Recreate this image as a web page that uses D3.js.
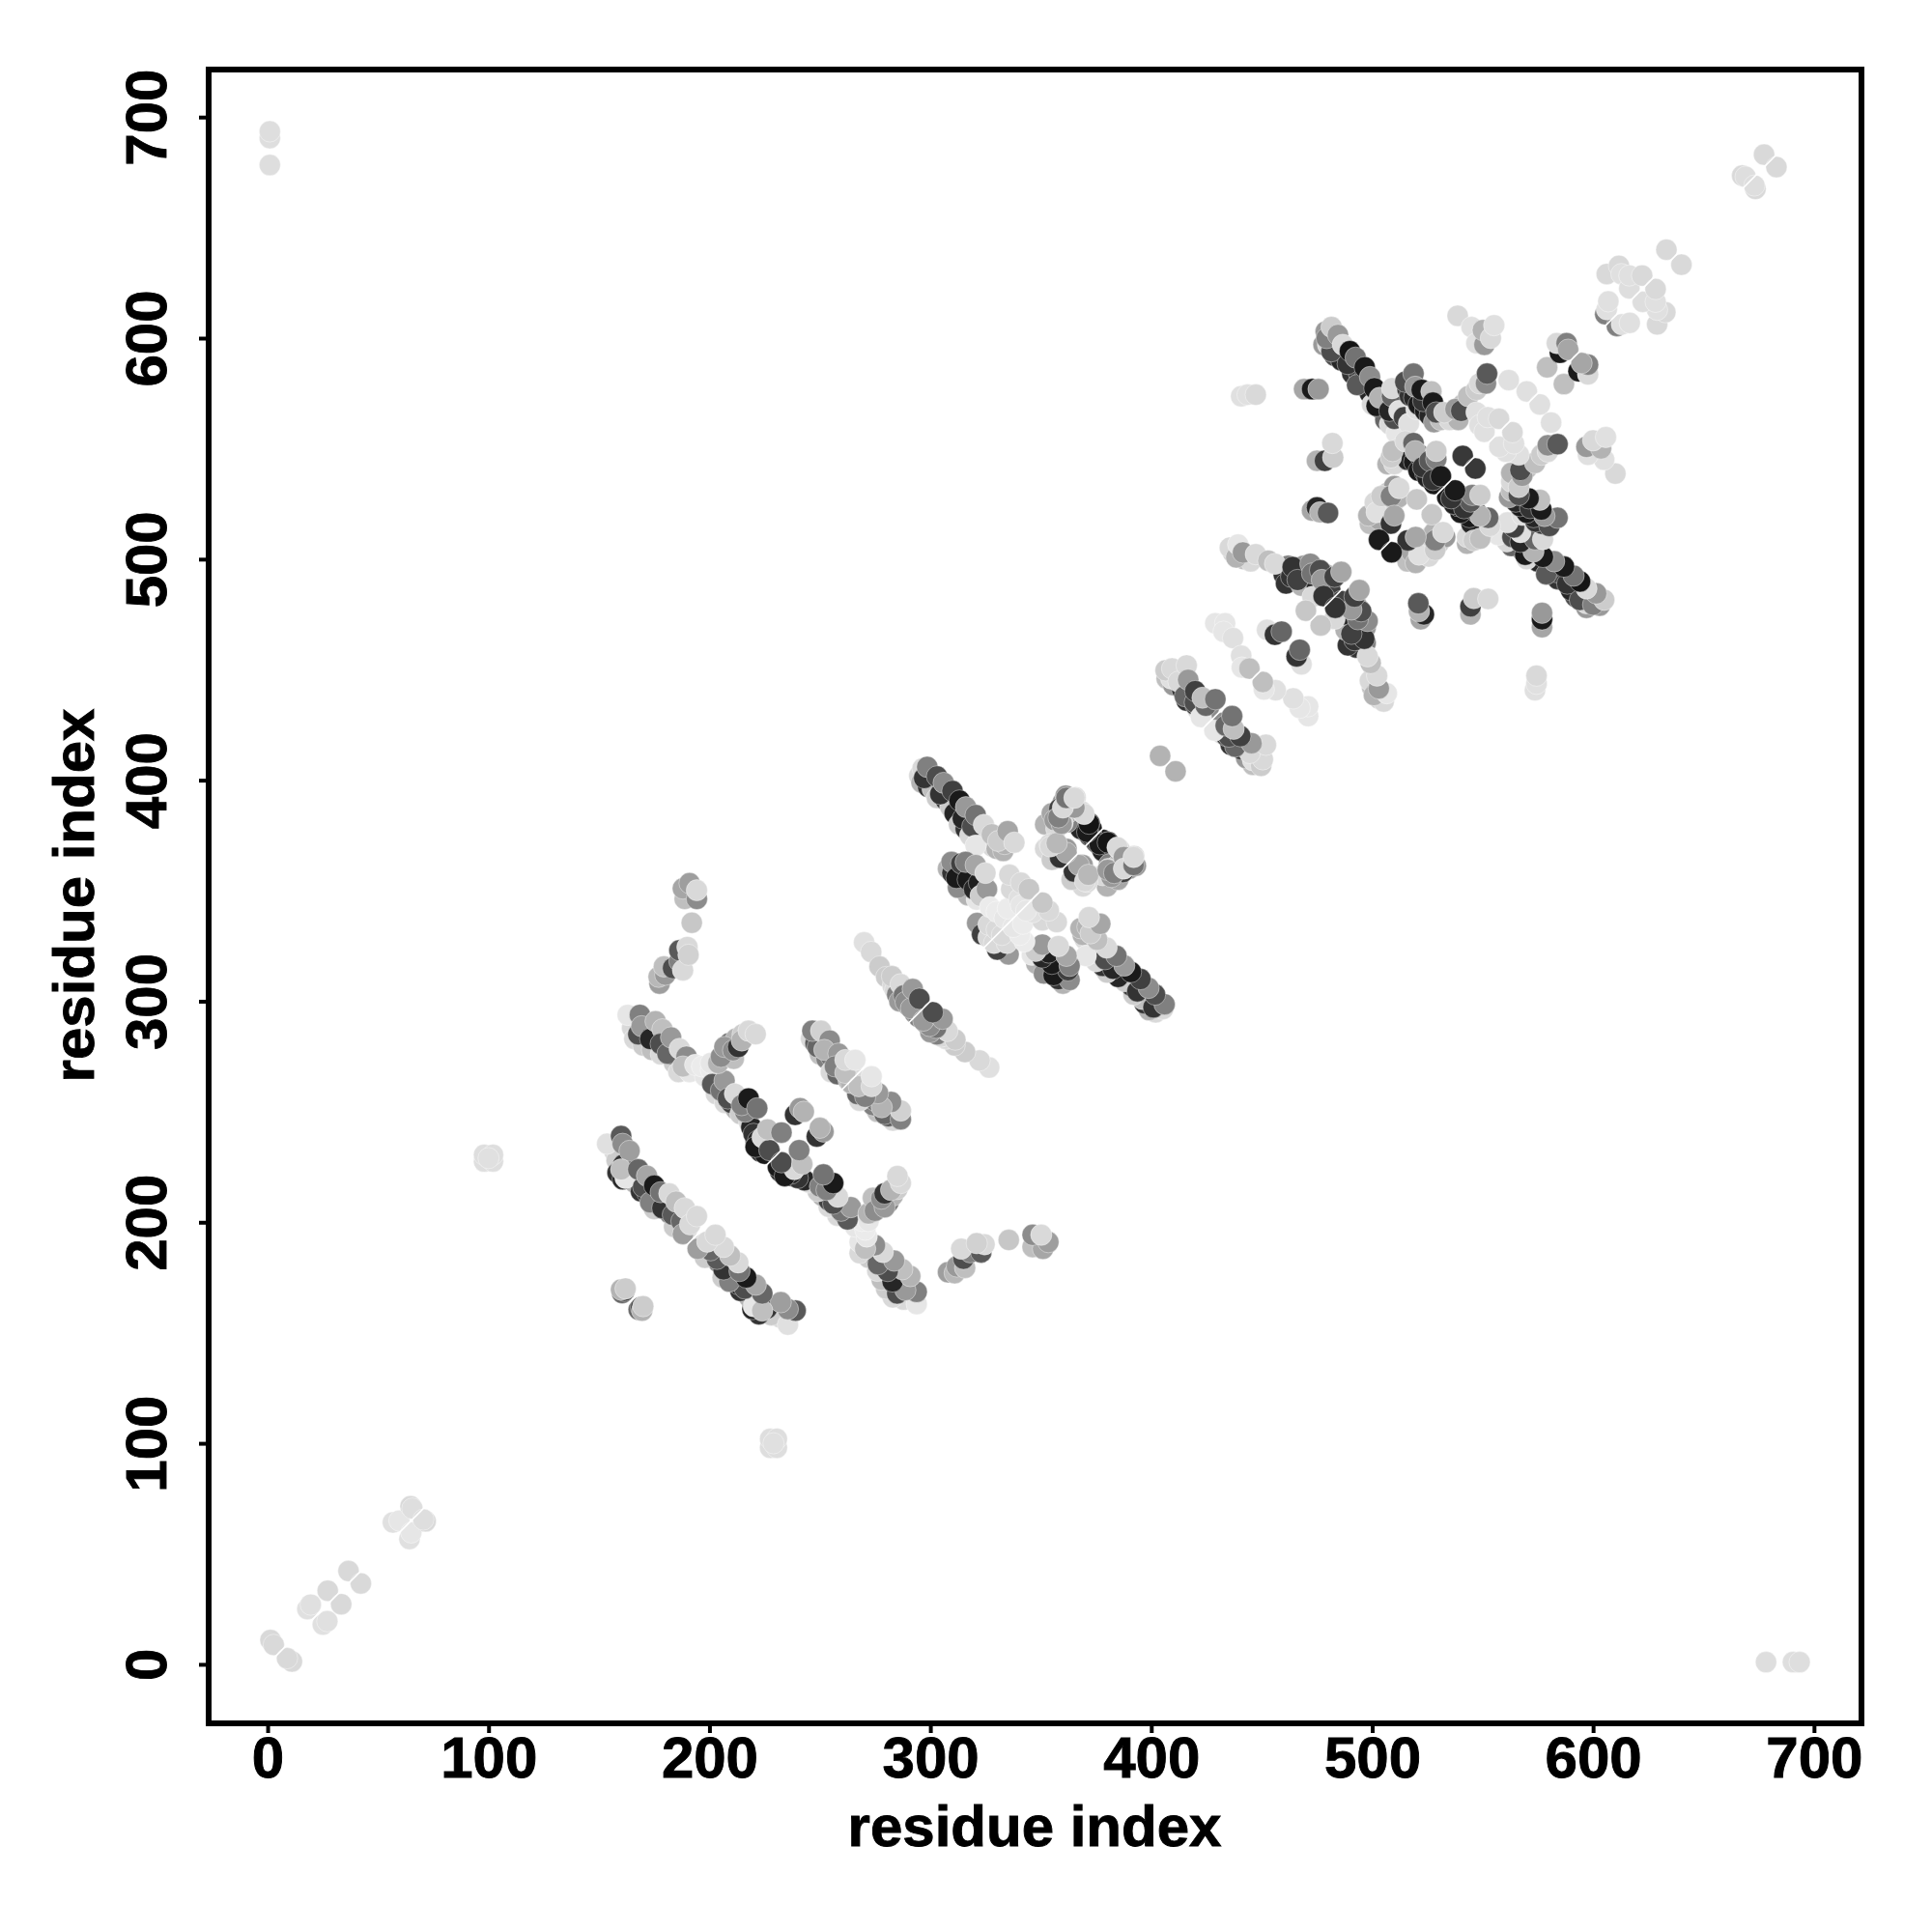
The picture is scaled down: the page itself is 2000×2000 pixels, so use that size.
<!DOCTYPE html>
<html><head><meta charset="utf-8">
<script src="https://cdn.jsdelivr.net/npm/d3@7"></script>
<style>html,body{margin:0;background:#fff}svg{display:block}text{font-family:"Liberation Sans",Arial,sans-serif;font-weight:700;fill:#000;stroke:#000;stroke-width:.9px}</style>
</head><body><svg id="c" width="2000" height="2000"></svg>
<script>
// contacts: [residue i, residue j, grey level], i<j; each is shown at (i,j) and (j,i)
const tickValues=[0,100,200,300,400,500,600,700];
const axisLabel="residue index";
const farContacts=[[1,678.3,.87],[1,690.5,.87],[1,693.5,.87],[98,227.5,.87],[98,230.5,.87],[102,227.5,.87],[102,230.5,.87],[100,229,.88]];
const nearStart=[[1.3,11,.85],[2.75,8.8,.85],[18,25,.88],[19.5,27,.88],[27.2,33.3,.85],[36.6,42.2,.85],[56.7,64.2,.88],[59.6,65,.9],[64.7,71.5,.85],[65.5,70.5,.87]];
const helixA=[[160.5,168,.4],[161.5,169,.25],[160,169.5,.7],[162,170,.8]];
const underS1=[[157,232,.85],[158,228,.8],[161,226,.2],[164,225,.25],[164,220,.8],[166,218,.7],[169,214,.2],[172,213,.15],[172,218,.7],[176,211,.3],[175,206,.8],[179,210,.15],[180,208,.2],[182,204,.5],[185,201,.8],[186,205,.3],[190,197,.85],[184,198,.8]];
const strandS1=[[153.7,235.5,.88],[158.4,222.4,.2],[160.7,219.5,.15],[160,239,.35],[160.7,235.5,.55],[163.8,232.3,.62],[162,220,.9],[160,223.9,.75],[170,216,.3],[167.8,223.9,.4],[171.7,221,.65],[173.2,209,.5],[175,216.6,.1],[178.7,206.4,.2],[177.9,213.6,.45],[181.8,213,.85],[183.4,203.4,.35],[184.9,209.3,.75],[187.3,200.5,.4],[188.8,206.4,.85],[188,194.7,.62],[191.2,199,.85],[194.3,202.7,.85]];
const strandC2=[[177.4,308,.62],[177,311,.72],[180,312,.6],[179.4,315.7,.75],[183.5,315,.3],[186.4,318,.5],[186.4,323,.35],[188,314,.85],[190,324.5,.85],[190.5,321,.82]];
const strandC1=[[188.8,346.3,.75],[188,351,.65],[191,353.4,.62],[194.3,346.3,.55],[192,335.5,.78],[194.3,350.2,.85]];
const underL2=[[165,288,.85],[166,283,.85],[170,280,.8],[172,285,.2],[175,283,.25],[174,278,.75],[178,276,.85],[180,279,.2],[184,272,.8],[183,276,.35],[186,268,.85],[191,268,.9],[198,266,.9],[203,258,.85],[204,261,.25],[207,254,.85],[212,251,.7],[210,254,.25],[214,249,.8],[218,245,.85],[219,243,.15],[221,237,.1],[223,232,.15],[225,231,.1]];
const strandL2=[[167.8,285,.3],[163,293.8,.9],[168.5,293.8,.5],[169.3,288.7,.6],[173.2,282.9,.15],[175.6,290.9,.7],[178.7,287.3,.75],[177.9,280.7,.3],[181,276.3,.4],[182.6,283.6,.6],[186.5,278.5,.85],[189.6,274.9,.55],[188,270.5,.75],[193.5,271.2,.9],[196.6,270.5,.92],[200.6,269,.92],[200.6,272,.9],[201.3,262.5,.35],[205.2,259.6,.45],[206.8,264,.6],[208.4,256,.3],[211.5,258.1,.85],[216.2,250,.5],[214.6,253,.5],[217.7,256,.1],[221.6,251.6,.45],[220,240,.2],[222,237,.15],[220.9,234.1,.1],[224,238.4,.85],[227.1,232.6,.3],[226.3,242,.75],[232.6,240.6,.5]];
const branchC3=[[204,272,.7],[207,276,.35],[209,281,.45],[211,274,.75],[212,283,.7],[215,285,.8],[205.2,274.9,.55],[206.8,279.3,.6],[210.7,277.8,.55],[213,279.3,.2],[214.6,282.2,.7],[217.7,286.6,.85],[220.9,285.1,.85]];
const patchC4=[[238.8,248.6,.2],[241,251.6,.6],[242.7,250,.7]];
const strandP=[[246,283,.85],[248,281,.35],[250,276,.75],[253,274,.5],[255,275,.45],[255,268,.85],[258,267,.4],[264,270,.85],[259,271,.85],[263,264,.7],[249,279.3,.4],[246.6,286.6,.5],[250.5,286.6,.82],[254.4,282.2,.55],[252,278,.7],[258.4,276.3,.6],[256.8,270.5,.5],[261.5,267.6,.75],[261.5,273.4,.85],[266,273.4,.9]];
const strandQ=[[270,326.6,.88],[273.2,322.3,.85],[277,315.7,.8],[280,311,.8],[283,307,.85],[284,305,.85],[285,303,.5],[286,300,.6],[289,304,.8],[290,298,.55],[293,294.5,.5],[282.6,311.3,.8],[286.5,307.7,.85],[288,302.6,.45],[288.8,299.7,.55],[291.2,296.8,.6],[292,305.5,.6],[295,301.1,.3]];
const strandR=[[295,402,.85],[296,399,.7],[299,397,.2],[301,396,.75],[303,392,.8],[307,391,.2],[309,388,.8],[311,385,.15],[313,380,.8],[316,378,.2],[318,375,.85],[322,374,.85],[324,372,.8],[328,370,.85],[330,369,.7],[333,368,.7],[296.5,405.3,.85],[297.2,401,.2],[298.6,406,.5],[304.5,393.7,.2],[303,401.7,.3],[306,398.8,.55],[310,395.1,.25],[313.2,390.8,.1],[314.7,382.7,.15],[316.1,387.8,.6],[319,379.1,.3],[320.5,370.4,.9],[320.5,384.2,.45],[324.2,379.8,.85],[327.8,375.5,.75],[333.6,371.1,.7],[330.7,372.5,.8],[335,376.9,.65],[338,371.8,.85]];
const patchC5=[[308,360,.7],[310,358,.2],[313,358,.2],[315,352,.3],[318,354,.1],[320,356,.2],[317,348,.7],[321,346,.9],[309.6,363,.55],[312.5,351.4,.55],[311.8,355.8,.1],[314,362.3,.25],[316.9,355,.1],[316,363,.5],[319.8,350.7,.15],[322,353.6,.12],[320.5,361.6,.65],[322.7,347.7,.8],[325.6,350.7,.6],[324.9,358,.85]];
const coreC6=[[321.2,335.4,.6],[323.4,330.3,.25],[326.3,328.8,.85],[326.3,334.6,.85],[330,332.4,.85],[327,342.6,.92],[330,340.5,.92],[333.6,337.5,.9],[335,341.9,.92],[336.6,350.7,.85],[340.2,346.3,.88],[341,343.4,.9],[335.8,357.2,.85],[341,353.6,.85],[344.6,350.7,.78]];
const patchC9=[[352,380,.7],[355,385,.65],[357,378,.85],[362,388,.25],[363,384,.8],[369,381,.85],[370,377,.1],[375,372,.05],[378,368,.15],[378,373,.1],[381,362,.5],[385,362,.7],[390,360,.6],[369,352,.85],[364,355,.8],[359,367,.85],[354,371,.85],[357.7,369.6,.7],[358.4,387.1,.25],[356.2,382,.6],[359.9,380.6,.85],[361.3,393,.6],[361.6,368.9,.6],[365,358.7,.2],[365.7,392.2,.85],[367.2,361.6,.65],[368.6,385.7,.85],[370,354.3,.85],[371.5,357.2,.72],[372,375.4,.2],[372,380.6,.05],[376.6,371,.1],[380.3,371.8,.08],[380.3,359.4,.6],[383.2,358,.5],[384.7,369.6,.85],[387.6,365.2,.6],[387.6,360,.85],[392,361.6,.45],[392,365.2,.85]];
const strandT=[[404,411,.7],[407,446,.75],[410,443,.6],[411,447,.85],[409,446,.88],[414,441,.2],[416,436,.2],[418,438,.85],[421,432,.85],[420,434,.25],[422,433,.2],[426,430,.85],[426,432.5,.55],[406.5,449.7,.8],[409.4,450.5,.85],[412.3,444.6,.85],[416,451.9,.85],[415.2,438,.4],[416.7,445.4,.6],[419.7,435.2,.3],[419.9,440.3,.25],[422.5,428.6,.9],[424.7,433.7,.4],[423.2,437.3,.75],[429,436.6,.45]];
const strandU=[[429,471,.9],[433.4,471,.9],[432.7,467.2,.9],[437,464.3,.88],[440.7,456.3,.88],[441,451,.9],[444.4,450.5,.75],[452.4,468,.88],[456,465.8,.2],[459,467.2,.4]];
const strandW=[[437,503,.8],[442,500,.75],[445,499,.85],[460,493,.2],[461,489,.2],[462,497,.5],[466,495,.35],[469,493,.1],[469,497,.6],[468,488,.7],[474,490,.3],[475,487,.15],[479,493,.65],[480,488,.15],[481,486,.25],[473,483,.85],[435.6,505.2,.85],[438.5,500.8,.7],[439.3,506.6,.9],[441.5,503,.6],[447.3,502.2,.85],[453,499.3,.75],[456,497.9,.85],[463.3,492,.2],[464,496.4,.2],[466.2,490.6,.25],[470,476.7,.78],[472,497.9,.55],[472.8,493.5,.45],[476.4,495,.3],[477.2,490.6,.6],[478,483.3,.2],[483,492,.25],[486,494.2,.65]];
const patchesMid=[[440.7,573.7,.88],[443.6,574.4,.88],[447.3,574.4,.85],[469.2,576.9,.65],[472.8,576.9,.1],[475.7,576.9,.6],[475,544.5,.7],[478.6,544.5,.25],[482.3,546,.8],[482,552.5,.85],[472.8,522,.65],[475,523.4,.15],[476.4,521.2,.7],[480,520.9,.35]];
const strandX=[[479,603,.6],[478,597,.6],[480,597,.85],[483,592,.3],[484,597,.7],[486,590,.15],[490,588,.1],[491,584,.2],[494,584,.25],[496,581,.15],[497,578,.1],[499,575,.15],[500,570,.85],[504,568,.2],[505,570,.1],[506,563,.4],[508,561,.85],[512,560,.15],[513,558,.85],[511,557,.9],[481.6,594,.3],[479.4,600,.5],[481.6,605,.8],[484.5,601.4,.6],[488.9,588.3,.2],[486.7,597,.85],[489.9,594.1,.08],[493.2,578.8,.35],[492.5,591.2,.45],[496.6,586.8,.1],[499,582.4,.55],[502,569.3,.1],[501,577.3,.1],[503.4,573,.7],[510,563.5,.3],[507.8,567.1,.15],[509,573.7,.4],[509,577.3,.85],[512.2,567.1,.88],[514.4,564.2,.25],[516.6,561.3,.88],[520,567.9,.88]];
const strandY=[[516,577,.2],[517,574,.2],[519,573,.15],[521,570,.1],[524,567,.1],[526,565,.15],[528,562,.6],[531,563,.75],[535,563,.85],[539,563,.7],[541,570,.75],[544,568,.6],[515,580.2,.3],[518.7,583.9,.45],[519.5,578,.6],[523.1,571.5,.2],[522.4,576.6,.1],[526.8,575.9,.75],[527.5,570.8,.1],[529,566.4,.3],[532.6,566.4,.8],[537.7,567.9,.6],[540.3,567.1,.3],[543.5,573.7,.75],[547.2,576.6,.8],[548.6,579.5,.85],[551.5,579.5,.55],[552,583.9,.35]];
const patchTop=[[538.7,610.1,.85],[545,605,.88],[547.2,597.7,.88],[550.8,597,.6],[550.1,603.6,.7],[553.7,600,.85],[555.2,605.8,.88],[547.2,566.4,.88],[548.6,560.6,.88],[550.8,557.6,.88],[552.3,564.2,.88],[557.4,563.5,.85],[561.8,581,.88],[570,575.9,.88],[579.2,586.8,.75],[585,593.4,.1],[583.6,597.7,.85],[588,597.7,.5],[588.7,594.8,.65]];
const strandCentre=[[507,543,.7],[510,543,.85],[512,550,.85],[517,549,.15],[516,545,.15],[519,544,.1],[521,540,.1],[524,539,.1],[525,537,.12],[528,534,.1],[524,542,.3],[508.5,546,.8],[509.3,548.9,.75],[515,553.3,.85],[518.7,552.5,.4],[521,547.4,.15],[519.5,548.9,.7],[523,541.6,.2],[526,544.5,.35],[527.5,535.8,.2],[529,545.3,.5],[529,548.9,.8],[531.1,537.5,.1],[541,546.7,.22]];
const patchC17=[[499,516,.75],[503,518,.65],[506,524,.6],[505,526,.25],[507,530,.8],[510,526,.85],[509,530,.2],[512,528,.7],[510,533,.6],[498.3,519.7,.7],[501.2,525.6,.85],[502,521.2,.88],[504.2,528.5,.8],[508.5,516.1,.2],[508.5,528.5,.5],[510,519.7,.65],[512.2,532.1,.85],[520.2,527,.78],[503.1,508.8,.1]];
const farEnd=[[605.5,610.8,.5],[606.2,613,.88],[606.9,616.6,.88],[606.2,629,.85],[611.7,632.7,.85],[612.8,629,.88],[616.4,622.5,.87],[616.4,628.3,.88],[622.2,628.3,.85],[633.2,640,.85],[667.5,673.5,.85],[669,673,.87],[677.4,683,.85]];

const groups=[farContacts,nearStart,helixA,underS1,strandS1,strandC2,strandC1,underL2,strandL2,branchC3,patchC4,strandP,strandQ,strandR,patchC5,coreC6,patchC9,strandT,strandU,strandW,patchesMid,strandX,strandY,patchC17,strandCentre,patchTop,farEnd];
const contacts=groups.flat();

const svg=d3.select("#c");
const x=d3.scaleLinear().domain([-26.7,721.5]).range([216,1927]);
const y=d3.scaleLinear().domain([-26.7,721.5]).range([1784,72]);
const grey=d3.scaleLinear().domain([0,1]).range(["#000","#fff"]);

const pts=svg.append("g");
contacts.forEach(([i,j,g])=>{
  [[i,j],[j,i]].forEach(([a,b])=>pts.append("circle")
    .attr("cx",x(a)).attr("cy",y(b)).attr("r",11)
    .attr("fill",grey(g)).attr("stroke","#fff").attr("stroke-width",.4));
});
svg.append("line").attr("x1",x(-26.7)).attr("y1",y(-26.7)).attr("x2",x(721.5)).attr("y2",y(721.5))
  .attr("stroke","#fff").attr("stroke-width",1.6);

svg.append("rect").attr("x",216).attr("y",72).attr("width",1711).attr("height",1712)
  .attr("fill","none").attr("stroke","#000").attr("stroke-width",6);

const ax=svg.append("g").attr("transform","translate(0,1784)")
  .call(d3.axisBottom(x).tickValues(tickValues).tickSize(10).tickPadding(0));
ax.selectAll("text").attr("y",56).attr("dy",0).style("font-size","60px");
const ay=svg.append("g").attr("transform","translate(216,0)")
  .call(d3.axisLeft(y).tickValues(tickValues).tickSize(10).tickPadding(0));
ay.selectAll("text").attr("x",0).attr("y",0).attr("dy",0).attr("text-anchor","middle")
  .attr("transform","translate(-44,0) rotate(-90)").style("font-size","60px");
[ax,ay].forEach(a=>{a.select(".domain").remove();a.selectAll("line").attr("stroke","#000").attr("stroke-width",4);});

svg.append("text").attr("x",1071).attr("y",1911).attr("text-anchor","middle").style("font-size","60px").text(axisLabel);
svg.append("text").attr("transform","translate(97,927) rotate(-90)").attr("text-anchor","middle").style("font-size","60px").text(axisLabel);
</script></body></html>
